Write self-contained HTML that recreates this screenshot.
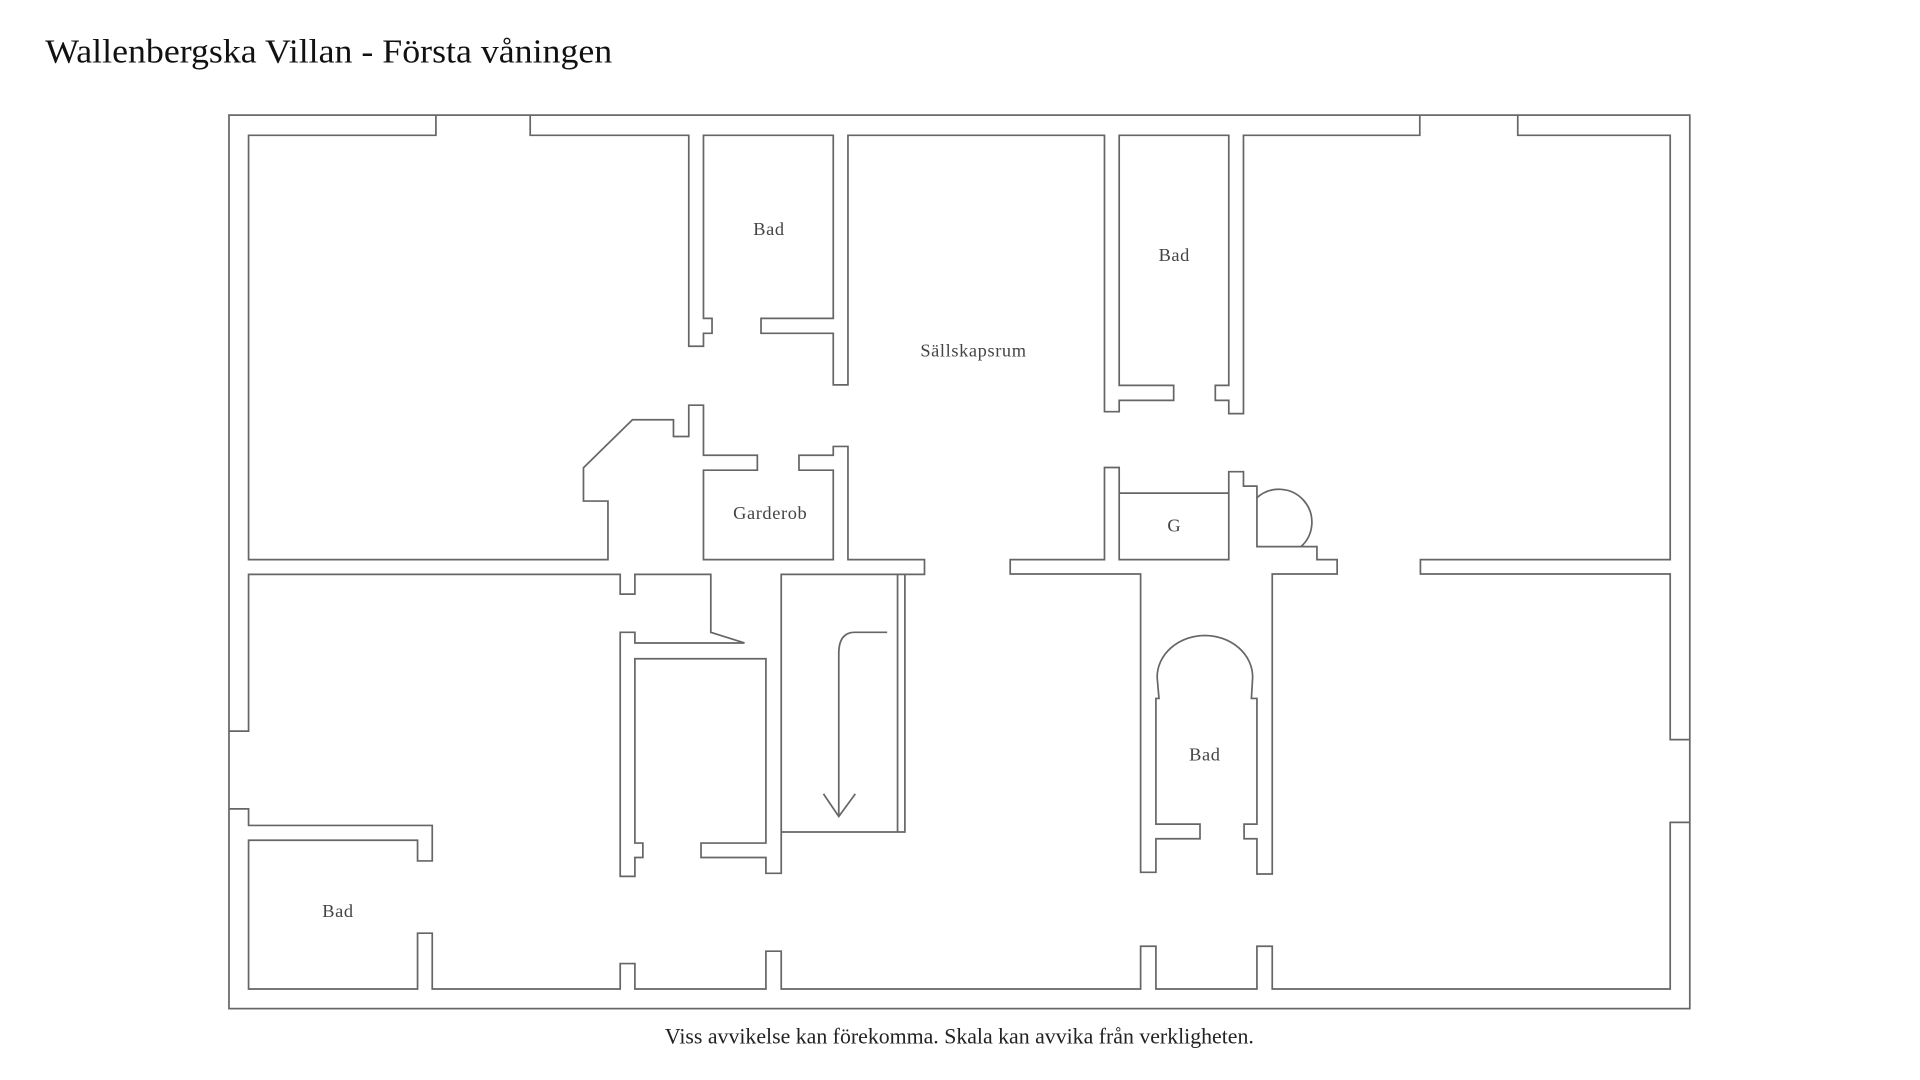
<!DOCTYPE html>
<html><head><meta charset="utf-8"><style>html,body{margin:0;padding:0;background:#fff;}svg{display:block}</style></head>
<body>
<svg width="1920" height="1080" viewBox="0 0 1568 882" preserveAspectRatio="none" xmlns="http://www.w3.org/2000/svg">
<rect width="1568" height="882" fill="#fff"/>
<g fill="none" stroke="#666" stroke-width="1.4" stroke-linejoin="miter">
<rect x="187" y="94" width="1193" height="729.7"/>
<!-- top-left room & garderob -->
<path d="M356,94 L356,110.5 L203,110.5 L203,457 L496.5,457 L496.5,409.2 L476.5,409.2 L476.5,382 L516.5,342.8 L550,342.8 L550,356.5 L562.5,356.5 L562.5,330.9 L574.5,330.9 L574.5,371.8 L618.5,371.8 L618.5,384 L574.5,384 L574.5,457 L680.5,457 L680.5,384 L652.5,384 L652.5,371.8 L680.5,371.8 L680.5,364.6 L692.5,364.6 L692.5,457 L755,457 L755,469.1 L638,469.1 L638,713.2 L625.5,713.2 L625.5,700.3 L572.5,700.3 L572.5,688.5 L625.5,688.5 L625.5,538 L518.5,538 L518.5,688.5 L525,688.5 L525,700.3 L518.5,700.3 L518.5,715.7 L506.5,715.7 L506.5,516.4 L518.5,516.4 L518.5,525.1 L608,525.1 L580.5,516.4 L580.5,469.1 L518.5,469.1 L518.5,485.2 L506.5,485.2 L506.5,469.1 L203,469.1 L203,597.1 L187,597.1"/>
<!-- top middle bad + bad2 + right -->
<path d="M433,94 L433,110.5 L562.5,110.5 L562.5,282.8 L574.5,282.8 L574.5,272.2 L581.5,272.2 L581.5,260 L574.5,260 L574.5,110.5 L680.5,110.5 L680.5,260 L621.5,260 L621.5,272.2 L680.5,272.2 L680.5,314.3 L692.5,314.3 L692.5,110.5 L902,110.5 L902,336.2 L914,336.2 L914,327 L958.5,327 L958.5,314.7 L914,314.7 L914,110.5 L1003.5,110.5 L1003.5,314.7 L992.5,314.7 L992.5,327 L1003.5,327 L1003.5,337.8 L1015.5,337.8 L1015.5,110.5 L1159.5,110.5 L1159.5,94"/>
<path d="M1239.5,94 L1239.5,110.5 L1364,110.5 L1364,457 L1160,457 L1160,468.8 L1364,468.8 L1364,604 L1380,604"/>
<path d="M1380,671.6 L1364,671.6 L1364,807.7 L1039,807.7 L1039,772.8 L1026.5,772.8 L1026.5,807.7 L944,807.7 L944,772.8 L931.5,772.8 L931.5,807.7 L638,807.7 L638,776.8 L625.5,776.8 L625.5,807.7 L518.5,807.7 L518.5,786.9 L506.5,786.9 L506.5,807.7 L353,807.7 L353,762.1 L341,762.1 L341,807.7 L203,807.7 L203,686.2 L341,686.2 L341,703.1 L353,703.1 L353,674.1 L203,674.1 L203,660.6 L187,660.6"/>
<!-- G complex and Bad3 -->
<path d="M825,457 L902,457 L902,381.8 L914,381.8 L914,457 L1003.5,457 L1003.5,385.2 L1015.5,385.2 L1015.5,397 L1026.5,397 L1026.5,446.4 L1075.5,446.4 L1075.5,457 L1092,457 L1092,468.8 L1039,468.8 L1039,713.8 L1026.5,713.8 L1026.5,685 L1016,685 L1016,673 L1026.5,673 L1026.5,570.4 L1022,570.4 L1023,553 A39,34 0 0 0 945,553 L946.5,570.4 L944,570.4 L944,673 L980,673 L980,685 L944,685 L944,712.4 L931.5,712.4 L931.5,468.8 L825,468.8 Z"/>
<line x1="914" y1="402.7" x2="1003.5" y2="402.7"/>
<path d="M1026.5,406.5 A24.5,24.5 0 1 1 1062.5,446.4"/>
<!-- stairs -->
<path d="M638,679.5 L739,679.5 L739,469.1"/>
<line x1="733" y1="469.1" x2="733" y2="679.5"/>
<path d="M724.5,516.4 L698,516.4 Q685,516.4 685,533.8 L685,666.8"/>
<path d="M672.5,648.3 L685,666.8 L698.5,648.3"/>
</g>
<g font-family="'Liberation Serif', serif" fill="#444" font-size="15" text-anchor="middle" letter-spacing="0.5">
<text x="628" y="192">Bad</text>
<text x="795" y="291">Sällskapsrum</text>
<text x="959" y="213">Bad</text>
<text x="629" y="424">Garderob</text>
<text x="959" y="434">G</text>
<text x="984" y="621">Bad</text>
<text x="276" y="749">Bad</text>
</g>
<text x="37" y="51" font-family="'Liberation Serif', serif" font-size="28" fill="#111" textLength="463" lengthAdjust="spacingAndGlyphs">Wallenbergska Villan - Första våningen</text>
<text x="543" y="852" font-family="'Liberation Serif', serif" font-size="18" fill="#222" textLength="481" lengthAdjust="spacingAndGlyphs">Viss avvikelse kan förekomma. Skala kan avvika från verkligheten.</text>
</svg>
</body></html>
